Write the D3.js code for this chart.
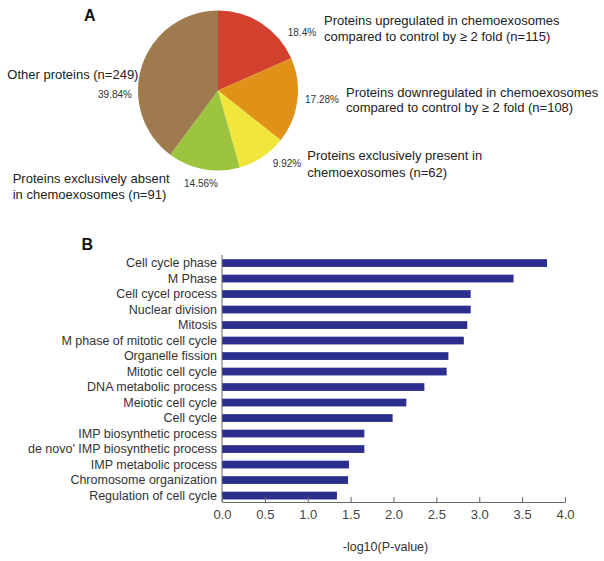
<!DOCTYPE html>
<html><head><meta charset="utf-8">
<script src="https://cdn.jsdelivr.net/npm/d3@7"></script>
<style>
html,body{margin:0;padding:0;background:#fff;}
svg text{font-family:"Liberation Sans",Arial,sans-serif;}
</style></head>
<body><svg id="chart" width="604" height="561"></svg>
<script>
// ---- Data ----
const pieCategories = [
  "Proteins upregulated in chemoexosomes|compared to control by \u2265 2 fold (n=115)",
  "Proteins downregulated in chemoexosomes|compared to control by \u2265 2 fold (n=108)",
  "Proteins exclusively present in|chemoexosomes (n=62)",
  "Proteins exclusively absent|in chemoexosomes (n=91)",
  "Other proteins (n=249)"
];
const pieValues = [115, 108, 62, 91, 249];
const pieColors = ["#d2402e", "#e09118", "#f1e73c", "#9cc43f", "#a07a4f"];

const barCategories = [
  "Cell cycle phase", "M Phase", "Cell cycel process", "Nuclear division", "Mitosis",
  "M phase of mitotic cell cycle", "Organelle fission", "Mitotic cell cycle",
  "DNA metabolic process", "Meiotic cell cycle", "Cell cycle", "IMP biosynthetic process",
  "de novo' IMP biosynthetic process", "IMP metabolic process", "Chromosome organization",
  "Regulation of cell cycle"
];
const barValues = [3.79, 3.40, 2.90, 2.90, 2.86, 2.82, 2.64, 2.62, 2.36, 2.15, 1.99, 1.66, 1.66, 1.48, 1.47, 1.34];
const xTicks = [0, 0.5, 1, 1.5, 2, 2.5, 3, 3.5, 4];
const xTitle = "-log10(P-value)";

// ---- Layout (styling, not data) ----
const pieCenter = [218, 90.5], pieR = 80;
const pctPos = [[302, 32], [322, 99], [287, 163], [201, 183], [115, 94]];
const catPos = [[324, 20.7], [346, 92], [307.3, 155.5], [12.7, 178], [7.3, 74]];
const catLineH = [15.5, 15.7, 16.5, 16, 0];

const svg = d3.select("#chart");

// Panel labels
svg.append("text").attr("x", 84).attr("y", 20.8).attr("font-size", 16).attr("font-weight", "bold").attr("fill", "#111").text("A");
svg.append("text").attr("x", 81.5).attr("y", 250).attr("font-size", 16).attr("font-weight", "bold").attr("fill", "#111").text("B");

// ---- Pie ----
const total = d3.sum(pieValues);
const pie = d3.pie().sort(null).value(d => d)(pieValues);
const arc = d3.arc().innerRadius(0).outerRadius(pieR);
const gp = svg.append("g").attr("transform", `translate(${pieCenter[0]},${pieCenter[1]})`);
gp.selectAll("path").data(pie).join("path")
  .attr("d", arc).attr("fill", (d, i) => pieColors[i]);

const fmt = v => (+(v * 100).toFixed(2)) + "%";
svg.selectAll("text.pct").data(pieValues).join("text").attr("class", "pct")
  .attr("x", (d, i) => pctPos[i][0]).attr("y", (d, i) => pctPos[i][1] + 3.5)
  .attr("text-anchor", "middle").attr("font-size", 10).attr("fill", "#333")
  .text(d => fmt(d / total));

pieCategories.forEach((c, i) => {
  const lines = c.split("|");
  const t = svg.append("text").attr("font-size", 13).attr("fill", "#222");
  lines.forEach((l, j) => {
    t.append("tspan").attr("x", catPos[i][0]).attr("y", catPos[i][1] + 4.6 + j * catLineH[i]).text(l);
  });
});

// ---- Bars ----
const x = d3.scaleLinear().domain([0, 4]).range([222, 565]);
const y = d3.scaleBand().domain(barCategories).range([255.3, 503.3]).paddingInner(0.5).paddingOuter(0.25);

svg.append("g").selectAll("rect").data(barValues).join("rect")
  .attr("x", x(0)).attr("y", (d, i) => y(barCategories[i]))
  .attr("width", d => x(d) - x(0)).attr("height", y.bandwidth())
  .attr("fill", "#2b2e8d");

svg.append("g").selectAll("text").data(barCategories).join("text")
  .attr("x", 217).attr("y", d => y(d) + y.bandwidth() / 2 + 4.3)
  .attr("text-anchor", "end").attr("font-size", 12.5).attr("fill", "#333")
  .text(d => d);

// Y axis line
svg.append("line").attr("x1", x(0)).attr("x2", x(0)).attr("y1", 255).attr("y2", 502)
  .attr("stroke", "#666").attr("stroke-width", 1);

// X axis
const gx = svg.append("g").attr("transform", "translate(0,502)")
  .call(d3.axisBottom(x).tickValues(xTicks).tickFormat(d3.format(".1f")).tickSizeInner(-5).tickSizeOuter(0).tickPadding(8));
gx.select(".domain").attr("stroke", "#666");
gx.selectAll(".tick line").attr("stroke", "#666");
gx.selectAll(".tick text").attr("font-size", 13).attr("fill", "#444")
  .attr("font-family", "'Liberation Sans',Arial,sans-serif").attr("dy", "0.71em").attr("y", 8);

svg.append("text").attr("x", 385.5).attr("y", 551).attr("text-anchor", "middle")
  .attr("font-size", 12.5).attr("fill", "#333").text(xTitle);
</script>
</body></html>
